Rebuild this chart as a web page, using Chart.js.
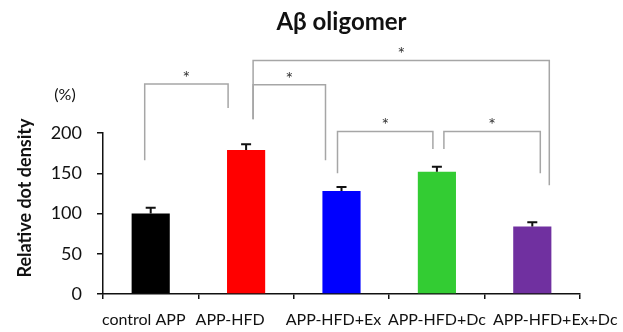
<!DOCTYPE html>
<html>
<head>
<meta charset="utf-8">
<script src="https://cdn.jsdelivr.net/npm/chart.js@4.4.1/dist/chart.umd.min.js"></script>
<style>
  html, body { margin: 0; padding: 0; background: #fff; }
  #wrap { width: 623px; height: 332px; }
</style>
</head>
<body>
<div id="wrap"><canvas id="AbChart"></canvas></div>
<script>
const groups = ['control APP', 'APP-HFD', 'APP-HFD+Ex', 'APP-HFD+Dc', 'APP-HFD+Ex+Dc'];
const density = [100, 179, 128, 152, 84];
const densityErr = [7, 7, 5, 6, 5];
const barColors = ['#000000', '#ff0000', '#0000ff', '#33cc33', '#7030a0'];
const yTicks = [0, 50, 100, 150, 200];

// significance brackets: group indexes, top level, leg ends (data units), x nudges (px)
const brackets = [
    { a: 0, b: 1, top: 261, endA: 166, endB: 231, dxA: -6, dxB: -18 },
    { a: 1, b: 2, top: 260, endA: 217, endB: 166, dxA: 7, dxB: -16 },
    { a: 1, b: 4, top: 290, endA: 217, endB: 135, dxA: 7, dxB: 17 },
    { a: 2, b: 3, top: 202, endA: 150, endB: 180, dxA: -4, dxB: -4 },
    { a: 3, b: 4, top: 202, endA: 180, endB: 150, dxA: 7, dxB: 8 }
];

const FONT = 'Lato, "Open Sans", sans-serif';
// category labels sit a little off-centre in the original layout
const labelShift = [-7, -16, -8, 0, 23];

const extras = {
    id: 'extras',
    afterDatasetsDraw(chart) {
        const ctx = chart.ctx;
        const x = chart.scales.x, y = chart.scales.y;
        const area = chart.chartArea;
        ctx.save();

        // error bars
        ctx.strokeStyle = '#111';
        ctx.lineWidth = 2;
        density.forEach((v, i) => {
            const px = x.getPixelForValue(i);
            const y0 = y.getPixelForValue(v);
            const y1 = y.getPixelForValue(v + densityErr[i]);
            ctx.beginPath();
            ctx.moveTo(px, y0);
            ctx.lineTo(px, y1);
            ctx.moveTo(px - 5, y1);
            ctx.lineTo(px + 5, y1);
            ctx.stroke();
        });

        // brackets + stars
        ctx.strokeStyle = '#a6a6a6';
        ctx.lineWidth = 1.5;
        ctx.fillStyle = '#333';
        ctx.font = '18px ' + FONT;
        ctx.textAlign = 'center';
        ctx.textBaseline = 'middle';
        brackets.forEach(br => {
            const xa = x.getPixelForValue(br.a) + br.dxA;
            const xb = x.getPixelForValue(br.b) + br.dxB;
            const yt = y.getPixelForValue(br.top);
            ctx.beginPath();
            ctx.moveTo(xa, y.getPixelForValue(br.endA));
            ctx.lineTo(xa, yt);
            ctx.lineTo(xb, yt);
            ctx.lineTo(xb, y.getPixelForValue(br.endB));
            ctx.stroke();
            ctx.fillText('*', (xa + xb) / 2, yt - 6);
        });

        // category labels
        ctx.fillStyle = '#111';
        ctx.font = '16px ' + FONT;
        groups.forEach((g, i) => {
            ctx.fillText(g, x.getPixelForValue(i) + labelShift[i], x.top + 26);
        });

        // title
        ctx.font = 'bold 24px ' + FONT;
        ctx.fillText('A\u03b2 oligomer', (area.left + area.right) / 2, 22);

        // units
        ctx.font = '16px ' + FONT;
        ctx.fillText('(%)', 65, 95);

        // y axis title
        ctx.font = 'bold 18px ' + FONT;
        ctx.translate(25, 198);
        ctx.rotate(-Math.PI / 2);
        ctx.fillText('Relative dot density', 0, 0);
        ctx.restore();
    }
};

document.addEventListener('DOMContentLoaded', () => {
    const data = document.getElementById('AbChart').getContext('2d');
    new Chart(data, {
        type: 'bar',
        data: {
            labels: groups,
            datasets: [{
                label: 'Relative dot density (%)',
                data: density,
                backgroundColor: barColors,
                borderWidth: 0,
                barPercentage: 0.4,
                categoryPercentage: 1
            }]
        },
        options: {
            responsive: true,
            maintainAspectRatio: false,
            animation: false,
            layout: { padding: { top: 133, right: 43, left: 0, bottom: 0 } },
            plugins: {
                legend: { display: false },
                tooltip: { enabled: false }
            },
            scales: {
                x: {
                    grid: { drawOnChartArea: false, color: '#111', tickLength: 5, lineWidth: 1.5 },
                    border: { color: '#111', width: 1.5 },
                    ticks: { display: false },
                    afterFit: s => { s.height = 38; }
                },
                y: {
                    min: 0,
                    max: 200,
                    afterBuildTicks: s => { s.ticks = yTicks.map(v => ({ value: v })); },
                    grid: { drawOnChartArea: false, color: '#111', tickLength: 6, lineWidth: 1.5 },
                    border: { color: '#111', width: 1.5 },
                    ticks: { color: '#111', font: { family: FONT, size: 18 }, padding: 15 },
                    afterFit: s => { s.width = 103; }
                }
            }
        },
        plugins: [extras]
    });
});
</script>
</body>
</html>
